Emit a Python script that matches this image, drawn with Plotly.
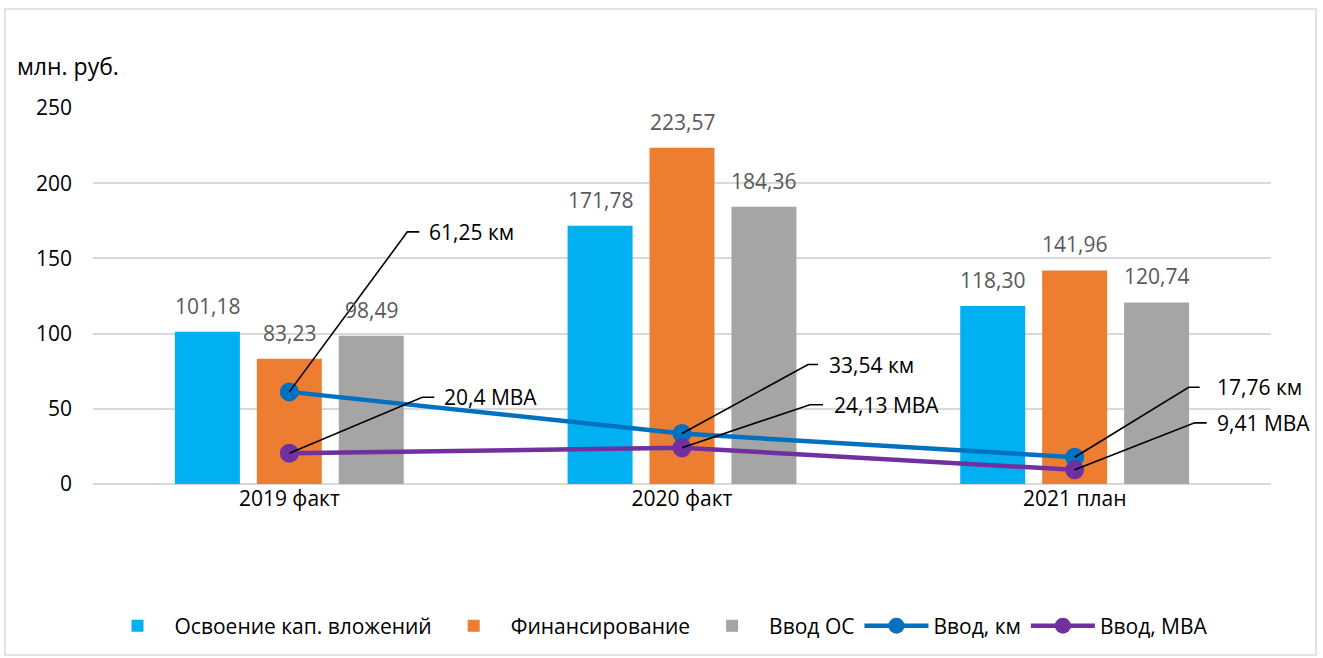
import plotly.graph_objects as go

categories = ["2019 факт", "2020 факт", "2021 план"]
osvoenie = [101.18, 171.78, 118.30]
finans = [83.23, 223.57, 141.96]
vvod_os = [98.49, 184.36, 120.74]
vvod_km = [61.25, 33.54, 17.76]
vvod_mva = [20.4, 24.13, 9.41]

bar_names = ["Освоение кап. вложений", "Финансирование", "Ввод ОС"]
bar_colors = ["#00B0F0", "#ED7D31", "#A5A5A5"]
km_color = "#0070C0"
mva_color = "#7030A0"

FONT = "Open Sans"
W, H = 1323, 658
ML, MR, MT, MB = 93, 52, 108, 174
BARGAP = 0.374
BARGROUPGAP = 0.207

fig = go.Figure()
for name, vals, col in zip(bar_names, [osvoenie, finans, vvod_os], bar_colors):
    fig.add_trace(go.Bar(x=categories, y=vals, name=name, marker_color=col,
                         marker_line_width=0, hoverinfo="y+name"))

fig.add_trace(go.Scatter(x=categories, y=vvod_km, name="Ввод, км", mode="lines+markers",
                         line=dict(color=km_color, width=4.5),
                         marker=dict(size=19, color=km_color)))
fig.add_trace(go.Scatter(x=categories, y=vvod_mva, name="Ввод, МВА", mode="lines+markers",
                         line=dict(color=mva_color, width=4.5),
                         marker=dict(size=19, color=mva_color)))

# value labels above bars
plot_w = W - ML - MR
plot_h = H - MT - MB
cat_px = plot_w / len(categories)
slot_px = cat_px * (1 - BARGAP) / 3
annotations = []
for si, vals in enumerate([osvoenie, finans, vvod_os]):
    for ci, v in enumerate(vals):
        annotations.append(dict(x=ci, y=v, xref="x", yref="y", showarrow=False,
                                text=f"{v:.2f}".replace(".", ","),
                                font=dict(family=FONT, size=21, color="#595959"),
                                xshift=(si - 1) * slot_px, yshift=26,
                                xanchor="center", yanchor="middle"))

def fmt(v):
    return str(v).replace(".", ",")

# leader lines with callouts (pixel offsets relative to the point)
km_offsets = [(118, 160, 12), (126, 69, 10), (114, 70, 11)]
mva_offsets = [(133, 56, 12), (128, 43, 13), (120, 47, 12)]
km_text_dx = [138, 145, 140]
mva_text_dx = [153, 150, 140]
shapes = []
for vals, offs, tdx, unit in [(vvod_km, km_offsets, km_text_dx, "км"),
                              (vvod_mva, mva_offsets, mva_text_dx, "МВА")]:
    for ci, v in enumerate(vals):
        dx, dy, hx = offs[ci]
        shapes.append(dict(type="path", xref="x", yref="y", xsizemode="pixel", ysizemode="pixel",
                           xanchor=ci, yanchor=v,
                           path=f"M0,0 L{dx},{dy} L{dx + hx},{dy}",
                           line=dict(color="black", width=1.6)))
        annotations.append(dict(x=ci, y=v, xref="x", yref="y", showarrow=False,
                                text=f"{fmt(v)} {unit}",
                                font=dict(family=FONT, size=21, color="black"),
                                xshift=tdx[ci], yshift=dy, xanchor="left", yanchor="middle"))

# axis unit title
annotations.append(dict(x=(15 - ML) / plot_w, y=(H - MB - 66) / plot_h,
                        xref="paper", yref="paper", showarrow=False,
                        text="млн. руб.", font=dict(family=FONT, size=23, color="black"),
                        xanchor="left", yanchor="middle"))

# outer border
shapes.append(dict(type="rect", xref="paper", yref="paper",
                   x0=(5 - ML) / plot_w, x1=(1316 - ML) / plot_w,
                   y0=(H - MB - 655) / plot_h, y1=(H - MB - 9) / plot_h,
                   line=dict(color="#D9D9D9", width=1.5), fillcolor="rgba(0,0,0,0)", layer="below"))

fig.update_layout(
    width=W, height=H,
    margin=dict(l=ML, r=MR, t=MT, b=MB, pad=0),
    paper_bgcolor="white", plot_bgcolor="white",
    barmode="group", bargap=BARGAP, bargroupgap=BARGROUPGAP,
    font=dict(family=FONT, size=20, color="black"),
    showlegend=True,
    legend=dict(orientation="h", x=(657 - ML) / plot_w, xanchor="center",
                y=(H - MB - 626) / plot_h, yanchor="middle",
                font=dict(family=FONT, size=21, color="black"),
                itemwidth=64, tracegroupgap=0, bgcolor="rgba(0,0,0,0)"),
    annotations=annotations,
    shapes=shapes,
)
fig.update_xaxes(range=[-0.5, 2.5], autorange=False, showgrid=False, showline=False,
                 zeroline=False, ticks="",
                 tickfont=dict(family=FONT, size=21, color="black"))
fig.update_yaxes(range=[0, 250], autorange=False, dtick=50, showgrid=True,
                 gridcolor="#D9D9D9", gridwidth=1.5,
                 zeroline=True, zerolinecolor="#D9D9D9", zerolinewidth=1.5, showline=False,
                 ticks="", ticklabelstandoff=20,
                 tickfont=dict(family=FONT, size=21, color="black"))

fig.write_html("out.html", config={"displayModeBar": False},
               post_script="document.body.style.margin='0';document.body.style.overflow='hidden';")
